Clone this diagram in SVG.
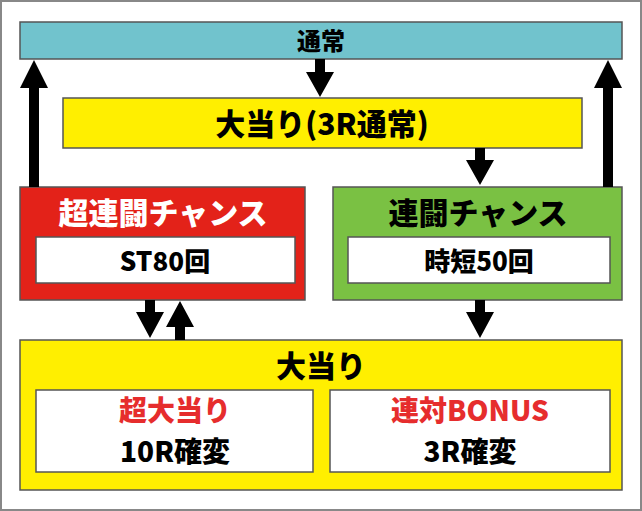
<svg xmlns="http://www.w3.org/2000/svg" width="642" height="511" viewBox="0 0 642 511">
<style>
.b{stroke:#555;stroke-width:1.5}
.t{font-family:"Noto Sans CJK JP","Noto Sans",sans-serif;font-weight:900;text-anchor:middle}
.k{fill:#000}
.r{fill:#e62d2d}
.w{fill:#fff}
</style>
<rect x="1" y="1" width="640" height="509" fill="#fff" stroke="#888" stroke-width="2"/>
<g id="tsujo"><rect class="b" x="20" y="22" width="602" height="37" fill="#71c3cd"/><text class="t k" x="321" y="50" font-size="24">通常</text></g>
<g id="oatari3r"><rect class="b" x="63" y="98" width="519" height="50" fill="#ffef00"/><text class="t k" x="322" y="135" font-size="30">大当り(3R通常)</text></g>
<g id="chorento"><rect class="b" x="20" y="187" width="285" height="113" fill="#e32219"/><text class="t w" x="163" y="224" font-size="30">超連闘チャンス</text><rect class="b" x="36" y="237" width="259" height="46" fill="#fff"/><text class="t k" x="165" y="271" font-size="26">ST80回</text></g>
<g id="rento"><rect class="b" x="333" y="187" width="289" height="113" fill="#7ac143"/><text class="t k" x="478" y="224" font-size="30">連闘チャンス</text><rect class="b" x="348" y="237" width="262" height="46" fill="#fff"/><text class="t k" x="479" y="271" font-size="26">時短50回</text></g>
<g id="oatari"><rect class="b" x="20" y="340" width="602" height="150" fill="#ffef00"/><text class="t k" x="321" y="377" font-size="30">大当り</text>
<rect class="b" x="36" y="390" width="277" height="82" fill="#fff"/><text class="t r" x="175" y="421" font-size="28">超大当り</text><text class="t k" x="175" y="462" font-size="28">10R確変</text>
<rect class="b" x="330" y="390" width="280" height="82" fill="#fff"/><text class="t r" x="470" y="421" font-size="28">連対BONUS</text><text class="t k" x="470" y="462" font-size="28">3R確変</text></g>
<g id="connectors" fill="#000">
<path d="M29 187V88H20L34 60L48 88H39V187Z"/>
<path d="M603 187V88H594L608 60L622 88H613V187Z"/>
<path d="M315 59V72H306L320 97L334 72H325V59Z"/>
<path d="M475 148V160H466L480 185L494 160H485V148Z"/>
<path d="M145 300V312H136L150 338L164 312H155V300Z"/>
<path d="M175 340V327H166L180 301L194 327H185V340Z"/>
<path d="M475 300V312H466L480 338L494 312H485V300Z"/>
</g>
</svg>
